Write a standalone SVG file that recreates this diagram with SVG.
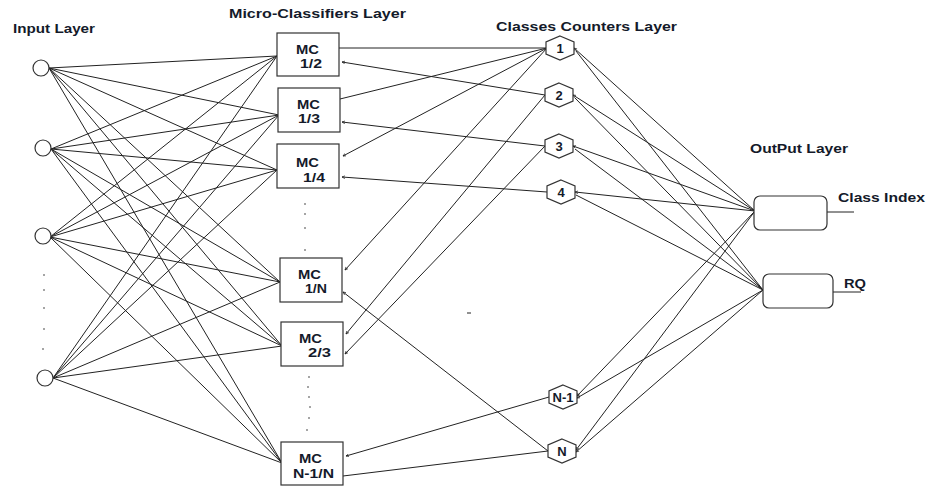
<svg xmlns="http://www.w3.org/2000/svg" width="927" height="487" viewBox="0 0 927 487">
<style>
.t{font-family:"Liberation Sans",Arial,sans-serif;font-weight:bold;font-size:13px;fill:#141a2a}
.m{font-size:12px}
.n{fill:#fff;stroke:#333;stroke-width:1.2}
.c line{stroke:#222;stroke-width:1}
.d{fill:#333}
</style>
<defs>
<marker id="a" markerWidth="4" markerHeight="4" refX="3" refY="2" orient="auto" markerUnits="userSpaceOnUse">
<path d="M0,0.6 L3,2 L0,3.4" fill="none" stroke="#222" stroke-width="0.7"/>
</marker>
</defs>
<rect width="927" height="487" fill="#fff"/>
<text class="t" x="13" y="33" textLength="82" lengthAdjust="spacingAndGlyphs">Input Layer</text>
<text class="t" x="229" y="18" textLength="177" lengthAdjust="spacingAndGlyphs">Micro-Classifiers Layer</text>
<text class="t" x="496" y="31" textLength="181" lengthAdjust="spacingAndGlyphs">Classes Counters Layer</text>
<text class="t" x="750" y="153" textLength="98" lengthAdjust="spacingAndGlyphs">OutPut Layer</text>
<g id="connectors" class="c">
<line x1="49" y1="68" x2="277" y2="56"/><line x1="49" y1="68" x2="279" y2="115"/><line x1="49" y1="68" x2="277" y2="170"/><line x1="49" y1="68" x2="280" y2="282"/><line x1="49" y1="68" x2="282" y2="346"/><line x1="49" y1="68" x2="282" y2="463"/>
<line x1="51" y1="149" x2="277" y2="56"/><line x1="51" y1="149" x2="279" y2="115"/><line x1="51" y1="149" x2="277" y2="170"/><line x1="51" y1="149" x2="280" y2="282"/><line x1="51" y1="149" x2="282" y2="346"/><line x1="51" y1="149" x2="282" y2="463"/>
<line x1="50" y1="237" x2="277" y2="56"/><line x1="50" y1="237" x2="279" y2="115"/><line x1="50" y1="237" x2="277" y2="170"/><line x1="50" y1="237" x2="280" y2="282"/><line x1="50" y1="237" x2="282" y2="346"/><line x1="50" y1="237" x2="282" y2="463"/>
<line x1="53" y1="378" x2="277" y2="56"/><line x1="53" y1="378" x2="279" y2="115"/><line x1="53" y1="378" x2="277" y2="170"/><line x1="53" y1="378" x2="280" y2="282"/><line x1="53" y1="378" x2="282" y2="346"/><line x1="53" y1="378" x2="282" y2="463"/>
<line x1="547" y1="48" x2="339" y2="48"/>
<line x1="545" y1="95" x2="342" y2="62" marker-end="url(#a)"/>
<line x1="547" y1="48" x2="340" y2="99"/>
<line x1="545" y1="146" x2="342" y2="122" marker-end="url(#a)"/>
<line x1="547" y1="48" x2="343" y2="156" marker-end="url(#a)"/>
<line x1="547" y1="192" x2="342" y2="177" marker-end="url(#a)"/>
<line x1="547" y1="48" x2="345" y2="270" marker-end="url(#a)"/>
<line x1="548" y1="451" x2="343" y2="292" marker-end="url(#a)"/>
<line x1="545" y1="95" x2="346" y2="334" marker-end="url(#a)"/>
<line x1="545" y1="146" x2="345" y2="354" marker-end="url(#a)"/>
<line x1="549" y1="397" x2="346" y2="456" marker-end="url(#a)"/>
<line x1="548" y1="451" x2="343" y2="476"/>
<line x1="755" y1="211" x2="574" y2="48" marker-end="url(#a)"/><line x1="763" y1="290" x2="576" y2="51"/>
<line x1="755" y1="211" x2="573" y2="95" marker-end="url(#a)"/><line x1="763" y1="290" x2="575" y2="98"/>
<line x1="755" y1="211" x2="573" y2="146" marker-end="url(#a)"/><line x1="763" y1="290" x2="575" y2="149"/>
<line x1="755" y1="211" x2="575" y2="192" marker-end="url(#a)"/><line x1="763" y1="290" x2="576" y2="195"/>
<line x1="755" y1="211" x2="577" y2="396" marker-end="url(#a)"/><line x1="763" y1="290" x2="577" y2="398" marker-end="url(#a)"/>
<line x1="755" y1="211" x2="576" y2="450" marker-end="url(#a)"/><line x1="763" y1="290" x2="576" y2="452" marker-end="url(#a)"/>
<line x1="827" y1="212" x2="854" y2="212"/>
<line x1="833" y1="292" x2="861" y2="292"/>
<line x1="467" y1="313" x2="471" y2="313"/>
</g>
<g id="input-dots" class="d">
<circle cx="44" cy="275" r="0.8"/><circle cx="44" cy="290" r="0.8"/><circle cx="44" cy="308" r="0.8"/><circle cx="44" cy="329" r="0.8"/><circle cx="43" cy="349" r="0.8"/>
</g>
<g id="mc-dots1" class="d">
<circle cx="305" cy="204" r="0.8"/><circle cx="305" cy="214" r="0.8"/><circle cx="305" cy="228" r="0.8"/><circle cx="305" cy="250" r="0.8"/>
</g>
<g id="mc-dots2" class="d">
<circle cx="309" cy="377" r="0.8"/><circle cx="308" cy="387" r="0.8"/><circle cx="309" cy="397" r="0.8"/><circle cx="310" cy="407" r="0.8"/><circle cx="309" cy="418" r="0.8"/><circle cx="307" cy="430" r="0.8"/>
</g>
<g id="in1"><circle class="n" cx="41" cy="68" r="8"/></g>
<g id="in2"><circle class="n" cx="43" cy="148" r="8"/></g>
<g id="in3"><circle class="n" cx="43" cy="236" r="8"/></g>
<g id="in4"><circle class="n" cx="45" cy="378" r="8"/></g>
<g id="mc12"><rect class="n" x="277" y="33" width="62" height="43"/><text class="t m" x="296" y="54" textLength="23" lengthAdjust="spacingAndGlyphs">MC</text><text class="t m" x="300" y="68" textLength="22" lengthAdjust="spacingAndGlyphs">1/2</text></g>
<g id="mc13"><rect class="n" x="278" y="88" width="62" height="44"/><text class="t m" x="297" y="109" textLength="23" lengthAdjust="spacingAndGlyphs">MC</text><text class="t m" x="298" y="123" textLength="22" lengthAdjust="spacingAndGlyphs">1/3</text></g>
<g id="mc14"><rect class="n" x="277" y="144" width="62" height="44"/><text class="t m" x="296" y="167" textLength="23" lengthAdjust="spacingAndGlyphs">MC</text><text class="t m" x="303" y="182" textLength="22" lengthAdjust="spacingAndGlyphs">1/4</text></g>
<g id="mc1n"><rect class="n" x="280" y="258" width="62" height="44"/><text class="t m" x="298" y="279" textLength="23" lengthAdjust="spacingAndGlyphs">MC</text><text class="t m" x="305" y="293" textLength="22" lengthAdjust="spacingAndGlyphs">1/N</text></g>
<g id="mc23"><rect class="n" x="281" y="322" width="62" height="44"/><text class="t m" x="299" y="343" textLength="23" lengthAdjust="spacingAndGlyphs">MC</text><text class="t m" x="308" y="357" textLength="23" lengthAdjust="spacingAndGlyphs">2/3</text></g>
<g id="mcn1n"><rect class="n" x="281" y="442" width="62" height="43"/><text class="t m" x="299" y="463" textLength="23" lengthAdjust="spacingAndGlyphs">MC</text><text class="t m" x="293" y="478" textLength="41" lengthAdjust="spacingAndGlyphs">N-1/N</text></g>
<g id="cc1"><polygon class="n" points="560,36 574,42 574,54 560,60 546,54 546,42"/><text class="t" x="560" y="53" text-anchor="middle">1</text></g>
<g id="cc2"><polygon class="n" points="559,83 573,89 573,101 559,107 545,101 545,89"/><text class="t" x="559" y="100" text-anchor="middle">2</text></g>
<g id="cc3"><polygon class="n" points="559,134 573,140 573,152 559,158 545,152 545,140"/><text class="t" x="559" y="151" text-anchor="middle">3</text></g>
<g id="cc4"><polygon class="n" points="561,180 575,186 575,198 561,204 547,198 547,186"/><text class="t" x="561" y="197" text-anchor="middle">4</text></g>
<g id="ccn1"><polygon class="n" points="563,385 577,391 577,403 563,409 549,403 549,391"/><text class="t" x="563" y="402" text-anchor="middle" textLength="21" lengthAdjust="spacingAndGlyphs">N-1</text></g>
<g id="ccn"><polygon class="n" points="562,439 576,445 576,457 562,463 548,457 548,445"/><text class="t" x="562" y="456" text-anchor="middle">N</text></g>
<g id="out1"><rect class="n" x="754" y="196" width="73" height="34" rx="6"/></g>
<g id="out2"><rect class="n" x="763" y="274" width="70" height="34" rx="6"/></g>
<text class="t" x="838" y="202" textLength="87" lengthAdjust="spacingAndGlyphs">Class Index</text>
<text class="t" x="844" y="288" textLength="22" lengthAdjust="spacingAndGlyphs">RQ</text>
</svg>
